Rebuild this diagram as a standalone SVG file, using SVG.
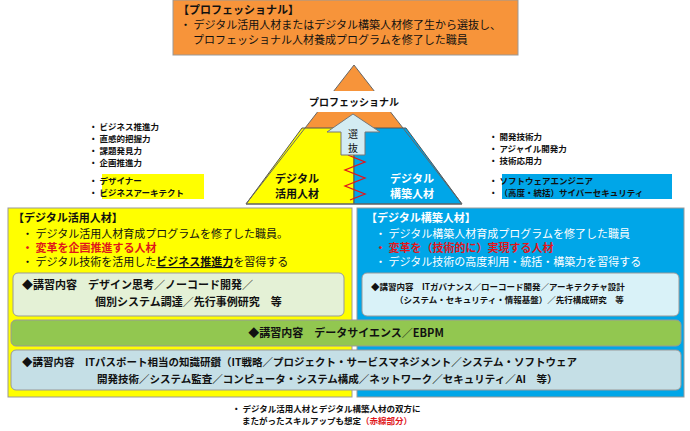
<svg xmlns="http://www.w3.org/2000/svg" width="690" height="431" viewBox="0 0 690 431">
<style>
text{font-family:"Noto Sans CJK JP","Liberation Sans",sans-serif;fill:#111}
.b{font-weight:bold}
.s{font-size:8.5px;font-weight:bold}
.m{font-size:11px}
.r{fill:#e0161b;font-weight:bold}
.w{fill:#fff}
</style>
<rect width="690" height="431" fill="#fff"/>
<g id="pro">
<rect x="173" y="0" width="345" height="55" fill="#f7943a" stroke="#999" stroke-width="1"/>
<text x="178" y="14" font-size="11" class="b">【プロフェッショナル】</text>
<text x="180" y="29" font-size="11">・ デジタル活用人材またはデジタル構築人材修了生から選抜し、</text>
<text x="193" y="44" font-size="11">プロフェッショナル人材養成プログラムを修了した職員</text>
</g>
<g id="pyramid">
<polygon points="354,65 246,204 462,204" fill="#f7943a"/>
<polygon points="302,128 354,128 354,204 246,204" fill="#ffff00" stroke="#555" stroke-width="1"/>
<polygon points="354,128 406,128 462,204 354,204" fill="#00a6e8" stroke="#555" stroke-width="1"/>
<polygon points="354,65 246,204 462,204" fill="none" stroke="#666" stroke-width="1"/>
<rect x="306" y="91" width="96" height="21" fill="#fff"/>
<text x="354" y="106" font-size="10" class="b" text-anchor="middle">プロフェッショナル</text>
<polyline points="348,155 365,162 345,170 365,178 345,186 365,194 350,200" fill="none" stroke="#e0161b" stroke-width="1.3"/>
<polygon points="341,155 365,155 365,132 380,132 353,114 327,132 341,132" fill="#d3ecf2" stroke="#777" stroke-width="1"/>
<text x="353" y="138" font-size="10" text-anchor="middle">選</text>
<text x="353" y="152" font-size="10" text-anchor="middle">抜</text>
<text x="297" y="183" font-size="11" class="b" text-anchor="middle">デジタル</text>
<text x="297" y="198" font-size="11" class="b" text-anchor="middle">活用人材</text>
<text x="412" y="183" font-size="11" class="b w" text-anchor="middle">デジタル</text>
<text x="412" y="198" font-size="11" class="b w" text-anchor="middle">構築人材</text>
</g>
<g id="leftList">
<rect x="102" y="174" width="102" height="25" fill="#ffff00"/>
<text x="89" y="130" class="s">・  ビジネス推進力</text>
<text x="89" y="142" class="s">・  直感的把握力</text>
<text x="89" y="154" class="s">・  課題発見力</text>
<text x="89" y="166" class="s">・  企画推進力</text>
<text x="89" y="184" class="s">・  デザイナー</text>
<text x="89" y="196" class="s">・  ビジネスアーキテクト</text>
</g>
<g id="rightList">
<rect x="502" y="174" width="170" height="25" fill="#00a6e8"/>
<text x="489" y="140" class="s">・  開発技術力</text>
<text x="489" y="152" class="s">・  アジャイル開発力</text>
<text x="489" y="164" class="s">・  技術応用力</text>
<text x="489" y="184" class="s">・  ソフトウェアエンジニア</text>
<text x="489" y="196" class="s">・  （高度・統括）サイバーセキュリティ</text>
</g>
<g id="katsuyo">
<rect x="8" y="208" width="344" height="189" fill="#ffff00" stroke="#999"/>
<text x="13" y="222" font-size="11" class="b">【デジタル活用人材】</text>
<text x="22" y="238" class="m">・   デジタル活用人材育成プログラムを修了した職員。</text>
<text x="22" y="252" class="m r">・   変革を企画推進する人材</text>
<text x="22" y="266" class="m">・   デジタル技術を活用した<tspan class="b" text-decoration="underline">ビジネス推進力</tspan>を習得する</text>
<rect x="13" y="273" width="331" height="43" rx="5" fill="#e4f1d6" stroke="#999"/>
<text x="22" y="289" class="m b">◆講習内容　デザイン思考／ノーコード開発／</text>
<text x="95" y="306" class="m b">個別システム調達／先行事例研究　等</text>
</g>
<g id="kochiku">
<rect x="357" y="208" width="327" height="189" fill="#00a6e8" stroke="#999"/>
<text x="366" y="222" font-size="11" class="b w">【デジタル構築人材】</text>
<text x="375" y="238" class="m w">・   デジタル構築人材育成プログラムを修了した職員</text>
<text x="375" y="252" class="m r">・   変革を（技術的に）実現する人材</text>
<text x="375" y="266" class="m w">・   デジタル技術の高度利用・統括・構築力を習得する</text>
<rect x="362" y="273" width="317" height="43" rx="5" fill="#d9f2f8" stroke="#999"/>
<text x="371" y="290" font-size="8.5" class="b">◆講習内容　ITガバナンス／ローコード開発／アーキテクチャ設計</text>
<text x="395" y="303" font-size="8.5" class="b">（システム・セキュリティ・情報基盤）／先行構成研究　等</text>
</g>
<g id="ds">
<rect x="11" y="320" width="670" height="26" rx="5" fill="#92c750" stroke="#999"/>
<text x="346" y="337" class="m b" text-anchor="middle">◆講習内容　データサイエンス／EBPM</text>
</g>
<g id="it">
<rect x="11" y="350" width="670" height="40" rx="5" fill="#c5dfe6" stroke="#999"/>
<text x="22" y="366" font-size="10.5" class="b">◆講習内容　ITパスポート相当の知識研鑽（IT戦略／プロジェクト・サービスマネジメント／システム・ソフトウェア</text>
<text x="97" y="383" font-size="10.5" class="b">開発技術／システム監査／コンピュータ・システム構成／ネットワーク／セキュリティ／AI　等）</text>
</g>
<g id="note">
<text x="232" y="412" font-size="8.5" class="b">・  デジタル活用人材とデジタル構築人材の双方に</text>
<text x="242" y="424" font-size="8.5" class="b">またがったスキルアップも想定<tspan class="r">（赤線部分）</tspan></text>
</g>
<g id="connectors"></g>
</svg>
